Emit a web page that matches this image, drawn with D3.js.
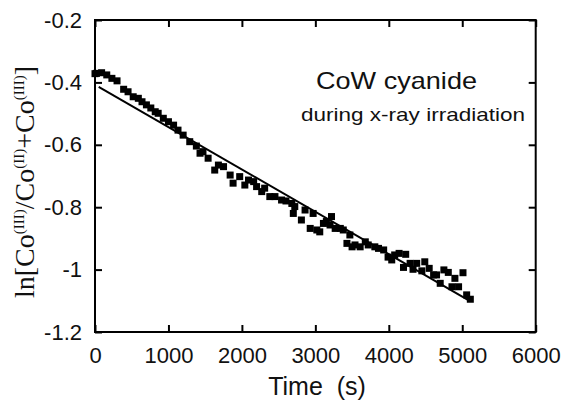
<!DOCTYPE html>
<html><head><meta charset="utf-8">
<script src="https://cdn.jsdelivr.net/npm/d3@7"></script>
<style>body{margin:0;background:#fff}svg{display:block}</style>
</head><body>
<svg id="c" width="562" height="401"></svg>
<script>
const timeS = [0,20,90,160,230,300,390,450,520,590,640,700,760,820,860,930,1000,1070,1130,1200,1290,1380,
1430,1470,1540,1630,1680,1750,1840,1880,1970,2040,2090,2160,2200,2270,2310,2380,2450,2540,2600,
2680,2700,2720,2810,2860,2930,2970,3020,3060,3110,3150,3220,3200,3270,3340,3380,3430,3470,3500,3540,3610,3680,3720,3810,3860,
3930,3990,4040,4080,4140,4230,4200,4290,4380,4330,4450,4490,4550,4610,4650,4700,4750,4810,4860,4900,4950,5010,5060,5110];
const lnRatio = [-0.372,-0.371,-0.369,-0.376,-0.387,-0.395,-0.422,-0.430,-0.446,-0.451,-0.462,-0.472,-0.482,-0.494,-0.499,-0.515,-0.526,-0.537,-0.553,-0.569,-0.590,-0.604,
-0.627,-0.622,-0.643,-0.681,-0.665,-0.670,-0.697,-0.723,-0.702,-0.729,-0.713,-0.718,-0.734,-0.750,-0.739,-0.766,-0.766,-0.777,-0.780,
-0.788,-0.820,-0.798,-0.841,-0.809,-0.868,-0.820,-0.873,-0.879,-0.852,-0.846,-0.830,-0.857,-0.868,-0.868,-0.873,-0.916,-0.889,-0.927,-0.921,-0.927,-0.911,-0.921,-0.927,-0.932,
-0.937,-0.960,-0.969,-0.953,-0.948,-0.951,-0.993,-0.980,-0.980,-0.999,-1.004,-0.975,-0.996,-1.017,-1.017,-1.044,-1.001,-1.009,-1.055,-1.028,-1.055,-1.010,-1.081,-1.095];
const fitT = [50, 5100];
const fitV = [-0.414, -1.100];
const xTicks = [0,1000,2000,3000,4000,5000,6000];
const xTickLabels = ["0","1000","2000","3000","4000","5000","6000"];
const yTicks = [-1.2,-1,-0.8,-0.6,-0.4,-0.2];
const yTickLabels = ["-1.2","-1","-0.8","-0.6","-0.4","-0.2"];

const svg = d3.select("#c");
const L=95, R=535.7, T=20, B=332;
const x = d3.scaleLinear().domain([0,6000]).range([L,R]);
const y = d3.scaleLinear().domain([-1.2,-0.2]).range([B,T]);
const font = "'Liberation Sans', Arial, Helvetica, sans-serif";

function styleAxis(g, showText){
  g.select(".domain").remove();
  g.selectAll(".tick line").attr("stroke","#000").attr("stroke-width",2);
  g.selectAll(".tick text").attr("font-family",font).attr("font-size",22).attr("fill","#111");
  if(!showText) g.selectAll(".tick text").remove();
}
svg.append("g").attr("transform",`translate(0,${B})`)
  .call(d3.axisBottom(x).tickValues(xTicks).tickFormat((d,i)=>xTickLabels[i]).tickSizeInner(-7).tickSizeOuter(0).tickPadding(15))
  .call(g=>styleAxis(g,true));
svg.append("g").attr("transform",`translate(0,${T})`)
  .call(d3.axisTop(x).tickValues(xTicks).tickFormat("").tickSizeInner(-7).tickSizeOuter(0))
  .call(g=>styleAxis(g,false));
svg.append("g").attr("transform",`translate(${L},0)`)
  .call(d3.axisLeft(y).tickValues(yTicks).tickFormat((d,i)=>yTickLabels[i]).tickSizeInner(-7).tickSizeOuter(0).tickPadding(13))
  .call(g=>styleAxis(g,true));
svg.append("g").attr("transform",`translate(${R},0)`)
  .call(d3.axisRight(y).tickValues(yTicks).tickFormat("").tickSizeInner(-7).tickSizeOuter(0))
  .call(g=>styleAxis(g,false));

svg.append("rect").attr("x",L).attr("y",T).attr("width",R-L).attr("height",B-T)
  .attr("fill","none").attr("stroke","#000").attr("stroke-width",2);

// fit line
svg.append("line").attr("x1",x(fitT[0])).attr("y1",y(fitV[0])).attr("x2",x(fitT[1])).attr("y2",y(fitV[1]))
  .attr("stroke","#000").attr("stroke-width",2);

// points
const s=7;
svg.append("g").selectAll("rect").data(timeS.map((t,i)=>[t,lnRatio[i]])).join("rect")
  .attr("x",d=>x(d[0])-s/2).attr("y",d=>y(d[1])-s/2).attr("width",s).attr("height",s).attr("fill","#000");

// annotations
svg.append("text").attr("x",316).attr("y",89).attr("font-family",font).attr("font-size",24)
  .attr("textLength",161).attr("lengthAdjust","spacingAndGlyphs").attr("fill","#111").text("CoW cyanide");
svg.append("text").attr("x",301).attr("y",121).attr("font-family",font).attr("font-size",19)
  .attr("textLength",224).attr("lengthAdjust","spacingAndGlyphs").attr("fill","#111").text("during x-ray irradiation");

// x label
svg.append("text").attr("x",317).attr("y",395).attr("text-anchor","middle").attr("font-family",font)
  .attr("font-size",25).attr("fill","#111").attr("xml:space","preserve").style("white-space","pre").text("Time  (s)");

// y label
const yl = svg.append("text").attr("transform","translate(34,182) rotate(-90)").attr("text-anchor","middle")
  .attr("font-family","'Liberation Serif','Times New Roman',serif").attr("font-size",28).attr("fill","#111");
const parts = [["ln[Co",0],["(III)",1],["/Co",0],["(II)",1],["+Co",0],["(III)",1],["]",0]];
parts.forEach(p=>{
  const ts = yl.append("tspan").text(p[0]);
  if(p[1]){ ts.attr("font-size",15).attr("baseline-shift","10"); }
});
</script>
</body></html>
